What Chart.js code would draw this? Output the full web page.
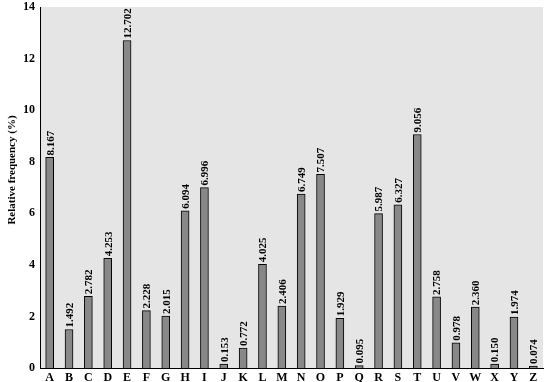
<!DOCTYPE html>
<html>
<head>
<meta charset="utf-8">
<script src="https://cdn.jsdelivr.net/npm/chart.js@4"></script>
<style>
  html, body { margin: 0; padding: 0; background: #fff; }
  #wrap { width: 553px; height: 382px; position: relative; }
</style>
</head>
<body>
<div id="wrap"><canvas id="grafico"></canvas></div>
<script>
// letras e frequencias relativas (%)
var letras = ['A','B','C','D','E','F','G','H','I','J','K','L','M','N','O','P','Q','R','S','T','U','V','W','X','Y','Z'];
var frequencias = [8.167, 1.492, 2.782, 4.253, 12.702, 2.228, 2.015, 6.094, 6.996, 0.153, 0.772, 4.025, 2.406,
                   6.749, 7.507, 1.929, 0.095, 5.987, 6.327, 9.056, 2.758, 0.978, 2.360, 0.150, 1.974, 0.074];
var ticksY = [0, 2, 4, 6, 8, 10, 12, 14];
var tituloY = 'Relative frequency (%)';

var fonte = '"Liberation Serif", "DejaVu Serif", serif';

// fundo cinza da area do grafico
var fundo = {
    id: 'fundo',
    beforeDraw(chart) {
        var a = chart.chartArea, ctx = chart.ctx;
        ctx.save();
        ctx.fillStyle = '#e5e5e5';
        ctx.fillRect(a.left, a.top, a.right - a.left, a.bottom - a.top);
        ctx.restore();
    }
};

// valores escritos na vertical em cima das barras + titulo do eixo y
var rotulos = {
    id: 'rotulos',
    afterDatasetsDraw(chart) {
        var ctx = chart.ctx;
        var meta = chart.getDatasetMeta(0);
        ctx.save();
        ctx.font = 'bold 11px ' + fonte;
        ctx.fillStyle = '#000';
        meta.data.forEach((barra, i) => {
            ctx.save();
            ctx.translate(barra.x, barra.y - 2);
            ctx.rotate(-Math.PI / 2);
            ctx.textAlign = 'left';
            ctx.textBaseline = 'middle';
            ctx.fillText(frequencias[i].toFixed(3), 0, 1);
            ctx.restore();
        });
        // titulo do eixo (um pouco acima do meio)
        ctx.translate(12, 170);
        ctx.rotate(-Math.PI / 2);
        ctx.font = 'bold 11px ' + fonte;
        ctx.textAlign = 'center';
        ctx.textBaseline = 'middle';
        ctx.fillText(tituloY, 0, 0);
        ctx.restore();
    }
};

new Chart(document.getElementById('grafico'), {
    type: 'bar',
    data: {
        labels: letras,
        datasets: [{
            data: frequencias,
            backgroundColor: '#888888',
            borderColor: '#000000',
            borderWidth: 1,
            borderSkipped: 'bottom',
            barThickness: 8
        }]
    },
    options: {
        responsive: true,
        maintainAspectRatio: false,
        animation: false,
        layout: { padding: { top: 7, right: 10, left: 0, bottom: 0 } },
        plugins: { legend: { display: false }, tooltip: { enabled: false } },
        scales: {
            x: {
                grid: { display: false, drawTicks: false },
                border: { display: true, color: '#000', width: 1 },
                ticks: { color: '#000', font: { family: fonte, size: 12, weight: 'bold' }, padding: 3, maxRotation: 0, autoSkip: false },
                afterFit(s) { s.height = 14; s.paddingLeft = 0; s.paddingRight = 0; }
            },
            y: {
                min: 0,
                max: 14,
                grid: { display: false, drawTicks: false },
                border: { display: true, color: '#000', width: 1 },
                afterBuildTicks(s) { s.ticks = ticksY.map(v => ({ value: v })); },
                ticks: { color: '#000', font: { family: fonte, size: 12, weight: 'bold' }, padding: 5 },
                afterFit(s) { s.width = 40; s.paddingTop = 0; s.paddingBottom = 0; }
            }
        }
    },
    plugins: [fundo, rotulos]
});
</script>
</body>
</html>
